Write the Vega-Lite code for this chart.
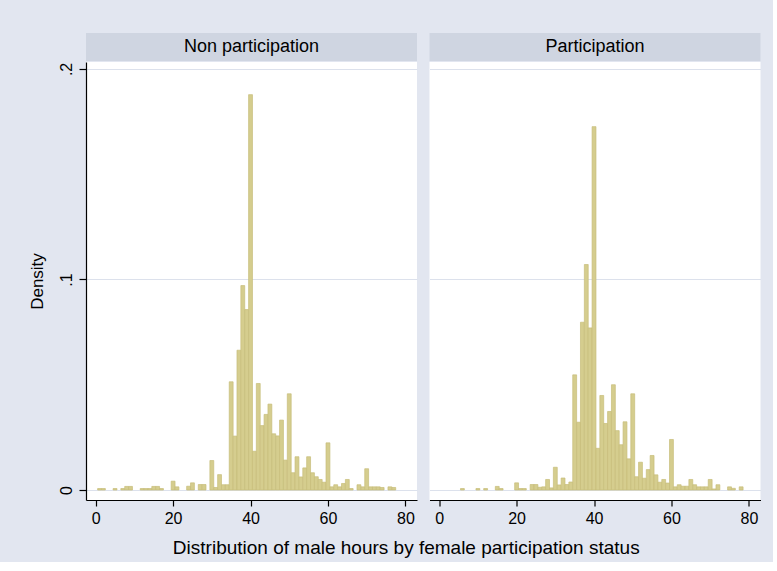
{
  "$schema": "https://vega.github.io/schema/vega-lite/v6.json",
  "background": "#E2E6F0",
  "padding": {"left": 28, "top": 33, "right": 12, "bottom": 4},
  "title": {"text": "Distribution of male hours by female participation status", "orient": "bottom", "anchor": "middle", "font": "Liberation Sans", "fontSize": 19, "fontWeight": "normal", "color": "black", "offset": 13, "dx": 12},
  "datasets": {
    "hist": [
      {"status": "Non participation", "bin_start": 0.5, "bin_end": 1.5, "density": 0.0007},
      {"status": "Non participation", "bin_start": 1.5, "bin_end": 2.5, "density": 0.0007},
      {"status": "Non participation", "bin_start": 4.5, "bin_end": 5.5, "density": 0.0007},
      {"status": "Non participation", "bin_start": 6.5, "bin_end": 7.5, "density": 0.0007},
      {"status": "Non participation", "bin_start": 7.5, "bin_end": 8.5, "density": 0.0017},
      {"status": "Non participation", "bin_start": 8.5, "bin_end": 9.5, "density": 0.0017},
      {"status": "Non participation", "bin_start": 11.5, "bin_end": 12.5, "density": 0.0007},
      {"status": "Non participation", "bin_start": 12.5, "bin_end": 13.5, "density": 0.0007},
      {"status": "Non participation", "bin_start": 13.5, "bin_end": 14.5, "density": 0.0007},
      {"status": "Non participation", "bin_start": 14.5, "bin_end": 15.5, "density": 0.0017},
      {"status": "Non participation", "bin_start": 15.5, "bin_end": 16.5, "density": 0.0017},
      {"status": "Non participation", "bin_start": 16.5, "bin_end": 17.5, "density": 0.0007},
      {"status": "Non participation", "bin_start": 19.5, "bin_end": 20.5, "density": 0.0042},
      {"status": "Non participation", "bin_start": 20.5, "bin_end": 21.5, "density": 0.0015},
      {"status": "Non participation", "bin_start": 23.5, "bin_end": 24.5, "density": 0.0018},
      {"status": "Non participation", "bin_start": 24.5, "bin_end": 25.5, "density": 0.0034},
      {"status": "Non participation", "bin_start": 26.5, "bin_end": 27.5, "density": 0.0026},
      {"status": "Non participation", "bin_start": 27.5, "bin_end": 28.5, "density": 0.0026},
      {"status": "Non participation", "bin_start": 29.5, "bin_end": 30.5, "density": 0.0140},
      {"status": "Non participation", "bin_start": 30.5, "bin_end": 31.5, "density": 0.0012},
      {"status": "Non participation", "bin_start": 31.5, "bin_end": 32.5, "density": 0.0073},
      {"status": "Non participation", "bin_start": 32.5, "bin_end": 33.5, "density": 0.0025},
      {"status": "Non participation", "bin_start": 33.5, "bin_end": 34.5, "density": 0.0025},
      {"status": "Non participation", "bin_start": 34.5, "bin_end": 35.5, "density": 0.0514},
      {"status": "Non participation", "bin_start": 35.5, "bin_end": 36.5, "density": 0.0256},
      {"status": "Non participation", "bin_start": 36.5, "bin_end": 37.5, "density": 0.0664},
      {"status": "Non participation", "bin_start": 37.5, "bin_end": 38.5, "density": 0.0971},
      {"status": "Non participation", "bin_start": 38.5, "bin_end": 39.5, "density": 0.0857},
      {"status": "Non participation", "bin_start": 39.5, "bin_end": 40.5, "density": 0.1878},
      {"status": "Non participation", "bin_start": 40.5, "bin_end": 41.5, "density": 0.0184},
      {"status": "Non participation", "bin_start": 41.5, "bin_end": 42.5, "density": 0.0506},
      {"status": "Non participation", "bin_start": 42.5, "bin_end": 43.5, "density": 0.0306},
      {"status": "Non participation", "bin_start": 43.5, "bin_end": 44.5, "density": 0.0359},
      {"status": "Non participation", "bin_start": 44.5, "bin_end": 45.5, "density": 0.0408},
      {"status": "Non participation", "bin_start": 45.5, "bin_end": 46.5, "density": 0.0267},
      {"status": "Non participation", "bin_start": 46.5, "bin_end": 47.5, "density": 0.0257},
      {"status": "Non participation", "bin_start": 47.5, "bin_end": 48.5, "density": 0.0332},
      {"status": "Non participation", "bin_start": 48.5, "bin_end": 49.5, "density": 0.0142},
      {"status": "Non participation", "bin_start": 49.5, "bin_end": 50.5, "density": 0.0457},
      {"status": "Non participation", "bin_start": 50.5, "bin_end": 51.5, "density": 0.0082},
      {"status": "Non participation", "bin_start": 51.5, "bin_end": 52.5, "density": 0.0158},
      {"status": "Non participation", "bin_start": 52.5, "bin_end": 53.5, "density": 0.0062},
      {"status": "Non participation", "bin_start": 53.5, "bin_end": 54.5, "density": 0.0105},
      {"status": "Non participation", "bin_start": 54.5, "bin_end": 55.5, "density": 0.0158},
      {"status": "Non participation", "bin_start": 55.5, "bin_end": 56.5, "density": 0.0082},
      {"status": "Non participation", "bin_start": 56.5, "bin_end": 57.5, "density": 0.0063},
      {"status": "Non participation", "bin_start": 57.5, "bin_end": 58.5, "density": 0.0050},
      {"status": "Non participation", "bin_start": 58.5, "bin_end": 59.5, "density": 0.0037},
      {"status": "Non participation", "bin_start": 59.5, "bin_end": 60.5, "density": 0.0224},
      {"status": "Non participation", "bin_start": 60.5, "bin_end": 61.5, "density": 0.0015},
      {"status": "Non participation", "bin_start": 61.5, "bin_end": 62.5, "density": 0.0025},
      {"status": "Non participation", "bin_start": 62.5, "bin_end": 63.5, "density": 0.0015},
      {"status": "Non participation", "bin_start": 63.5, "bin_end": 64.5, "density": 0.0031},
      {"status": "Non participation", "bin_start": 64.5, "bin_end": 65.5, "density": 0.0050},
      {"status": "Non participation", "bin_start": 65.5, "bin_end": 66.5, "density": 0.0007},
      {"status": "Non participation", "bin_start": 67.5, "bin_end": 68.5, "density": 0.0025},
      {"status": "Non participation", "bin_start": 68.5, "bin_end": 69.5, "density": 0.0015},
      {"status": "Non participation", "bin_start": 69.5, "bin_end": 70.5, "density": 0.0101},
      {"status": "Non participation", "bin_start": 70.5, "bin_end": 71.5, "density": 0.0015},
      {"status": "Non participation", "bin_start": 71.5, "bin_end": 72.5, "density": 0.0015},
      {"status": "Non participation", "bin_start": 72.5, "bin_end": 73.5, "density": 0.0015},
      {"status": "Non participation", "bin_start": 73.5, "bin_end": 74.5, "density": 0.0012},
      {"status": "Non participation", "bin_start": 75.5, "bin_end": 76.5, "density": 0.0015},
      {"status": "Non participation", "bin_start": 76.5, "bin_end": 77.5, "density": 0.0012},
      {"status": "Participation", "bin_start": 5.5, "bin_end": 6.5, "density": 0.0007},
      {"status": "Participation", "bin_start": 9.5, "bin_end": 10.5, "density": 0.0007},
      {"status": "Participation", "bin_start": 11.5, "bin_end": 12.5, "density": 0.0007},
      {"status": "Participation", "bin_start": 14.5, "bin_end": 15.5, "density": 0.0017},
      {"status": "Participation", "bin_start": 15.5, "bin_end": 16.5, "density": 0.0007},
      {"status": "Participation", "bin_start": 19.5, "bin_end": 20.5, "density": 0.0034},
      {"status": "Participation", "bin_start": 20.5, "bin_end": 21.5, "density": 0.0007},
      {"status": "Participation", "bin_start": 21.5, "bin_end": 22.5, "density": 0.0007},
      {"status": "Participation", "bin_start": 23.5, "bin_end": 24.5, "density": 0.0026},
      {"status": "Participation", "bin_start": 24.5, "bin_end": 25.5, "density": 0.0026},
      {"status": "Participation", "bin_start": 25.5, "bin_end": 26.5, "density": 0.0013},
      {"status": "Participation", "bin_start": 26.5, "bin_end": 27.5, "density": 0.0015},
      {"status": "Participation", "bin_start": 27.5, "bin_end": 28.5, "density": 0.0050},
      {"status": "Participation", "bin_start": 28.5, "bin_end": 29.5, "density": 0.0010},
      {"status": "Participation", "bin_start": 29.5, "bin_end": 30.5, "density": 0.0108},
      {"status": "Participation", "bin_start": 30.5, "bin_end": 31.5, "density": 0.0024},
      {"status": "Participation", "bin_start": 31.5, "bin_end": 32.5, "density": 0.0057},
      {"status": "Participation", "bin_start": 32.5, "bin_end": 33.5, "density": 0.0026},
      {"status": "Participation", "bin_start": 33.5, "bin_end": 34.5, "density": 0.0038},
      {"status": "Participation", "bin_start": 34.5, "bin_end": 35.5, "density": 0.0547},
      {"status": "Participation", "bin_start": 35.5, "bin_end": 36.5, "density": 0.0322},
      {"status": "Participation", "bin_start": 36.5, "bin_end": 37.5, "density": 0.0797},
      {"status": "Participation", "bin_start": 37.5, "bin_end": 38.5, "density": 0.1071},
      {"status": "Participation", "bin_start": 38.5, "bin_end": 39.5, "density": 0.0770},
      {"status": "Participation", "bin_start": 39.5, "bin_end": 40.5, "density": 0.1726},
      {"status": "Participation", "bin_start": 40.5, "bin_end": 41.5, "density": 0.0198},
      {"status": "Participation", "bin_start": 41.5, "bin_end": 42.5, "density": 0.0449},
      {"status": "Participation", "bin_start": 42.5, "bin_end": 43.5, "density": 0.0316},
      {"status": "Participation", "bin_start": 43.5, "bin_end": 44.5, "density": 0.0373},
      {"status": "Participation", "bin_start": 44.5, "bin_end": 45.5, "density": 0.0500},
      {"status": "Participation", "bin_start": 45.5, "bin_end": 46.5, "density": 0.0282},
      {"status": "Participation", "bin_start": 46.5, "bin_end": 47.5, "density": 0.0215},
      {"status": "Participation", "bin_start": 47.5, "bin_end": 48.5, "density": 0.0324},
      {"status": "Participation", "bin_start": 48.5, "bin_end": 49.5, "density": 0.0148},
      {"status": "Participation", "bin_start": 49.5, "bin_end": 50.5, "density": 0.0457},
      {"status": "Participation", "bin_start": 50.5, "bin_end": 51.5, "density": 0.0063},
      {"status": "Participation", "bin_start": 51.5, "bin_end": 52.5, "density": 0.0132},
      {"status": "Participation", "bin_start": 52.5, "bin_end": 53.5, "density": 0.0056},
      {"status": "Participation", "bin_start": 53.5, "bin_end": 54.5, "density": 0.0097},
      {"status": "Participation", "bin_start": 54.5, "bin_end": 55.5, "density": 0.0164},
      {"status": "Participation", "bin_start": 55.5, "bin_end": 56.5, "density": 0.0072},
      {"status": "Participation", "bin_start": 56.5, "bin_end": 57.5, "density": 0.0037},
      {"status": "Participation", "bin_start": 57.5, "bin_end": 58.5, "density": 0.0050},
      {"status": "Participation", "bin_start": 58.5, "bin_end": 59.5, "density": 0.0033},
      {"status": "Participation", "bin_start": 59.5, "bin_end": 60.5, "density": 0.0240},
      {"status": "Participation", "bin_start": 60.5, "bin_end": 61.5, "density": 0.0015},
      {"status": "Participation", "bin_start": 61.5, "bin_end": 62.5, "density": 0.0025},
      {"status": "Participation", "bin_start": 62.5, "bin_end": 63.5, "density": 0.0018},
      {"status": "Participation", "bin_start": 63.5, "bin_end": 64.5, "density": 0.0018},
      {"status": "Participation", "bin_start": 64.5, "bin_end": 65.5, "density": 0.0050},
      {"status": "Participation", "bin_start": 65.5, "bin_end": 66.5, "density": 0.0025},
      {"status": "Participation", "bin_start": 66.5, "bin_end": 67.5, "density": 0.0015},
      {"status": "Participation", "bin_start": 67.5, "bin_end": 68.5, "density": 0.0015},
      {"status": "Participation", "bin_start": 68.5, "bin_end": 69.5, "density": 0.0015},
      {"status": "Participation", "bin_start": 69.5, "bin_end": 70.5, "density": 0.0050},
      {"status": "Participation", "bin_start": 70.5, "bin_end": 71.5, "density": 0.0005},
      {"status": "Participation", "bin_start": 71.5, "bin_end": 72.5, "density": 0.0025},
      {"status": "Participation", "bin_start": 74.5, "bin_end": 75.5, "density": 0.0015},
      {"status": "Participation", "bin_start": 75.5, "bin_end": 76.5, "density": 0.0008},
      {"status": "Participation", "bin_start": 77.5, "bin_end": 78.5, "density": 0.0015}
    ]
  },
  "spacing": 12.5,
  "hconcat": [
    {
      "spacing": 1,
      "vconcat": [
        {
          "width": 331, "height": 28,
          "view": {"fill": "#CFD5E1", "stroke": null},
          "data": {"values": [{"label": "Non participation"}]},
          "mark": {"type": "text", "font": "Liberation Sans", "fontSize": 18, "color": "black", "baseline": "middle", "align": "center"},
          "encoding": {"text": {"field": "label"}}
        },
        {
          "width": 331, "height": 438,
          "view": {"fill": "white", "stroke": null},
          "data": {"name": "hist"},
          "transform": [{"filter": "datum.status == 'Non participation'"}],
          "mark": {"type": "rect", "fill": "#D5CD8E", "stroke": "#C7BD7A", "strokeWidth": 0.7},
          "encoding": {
            "x": {"field": "bin_start", "type": "quantitative", "scale": {"domain": [-2.5, 83], "nice": false, "zero": false},
                  "axis": {"values": [0, 20, 40, 60, 80], "grid": false, "title": null, "tickSize": 6, "labelPadding": 4}},
            "x2": {"field": "bin_end"},
            "y": {"field": "density", "type": "quantitative", "scale": {"domain": [-0.00475, 0.2033], "nice": false, "zero": false},
                  "axis": {"values": [0, 0.1, 0.2], "grid": true, "title": "Density", "labelAngle": -90, "labelAlign": "center", "labelBaseline": "bottom", "tickSize": 7, "labelPadding": 5, "titlePadding": 12,
                           "labelExpr": "datum.value == 0 ? '0' : '.' + round(datum.value * 10)"}},
            "y2": {"datum": 0}
          }
        }
      ]
    },
    {
      "spacing": 1,
      "vconcat": [
        {
          "width": 331, "height": 28,
          "view": {"fill": "#CFD5E1", "stroke": null},
          "data": {"values": [{"label": "Participation"}]},
          "mark": {"type": "text", "font": "Liberation Sans", "fontSize": 18, "color": "black", "baseline": "middle", "align": "center"},
          "encoding": {"text": {"field": "label"}}
        },
        {
          "width": 331, "height": 438,
          "view": {"fill": "white", "stroke": null},
          "data": {"name": "hist"},
          "transform": [{"filter": "datum.status == 'Participation'"}],
          "mark": {"type": "rect", "fill": "#D5CD8E", "stroke": "#C7BD7A", "strokeWidth": 0.7},
          "encoding": {
            "x": {"field": "bin_start", "type": "quantitative", "scale": {"domain": [-2.5, 83], "nice": false, "zero": false},
                  "axis": {"values": [0, 20, 40, 60, 80], "grid": false, "title": null, "tickSize": 6, "labelPadding": 4}},
            "x2": {"field": "bin_end"},
            "y": {"field": "density", "type": "quantitative", "scale": {"domain": [-0.00475, 0.2033], "nice": false, "zero": false},
                  "axis": {"values": [0, 0.1, 0.2], "grid": true, "title": null, "labels": false, "ticks": false, "domain": false}},
            "y2": {"datum": 0}
          }
        }
      ]
    }
  ],
  "config": {
    "view": {"stroke": null},
    "axis": {
      "labelFont": "Liberation Sans", "titleFont": "Liberation Sans",
      "labelFontSize": 16, "titleFontSize": 17, "titleFontWeight": "normal",
      "labelColor": "black", "titleColor": "black",
      "domainColor": "black", "domainWidth": 1.2, "tickColor": "black", "tickWidth": 1.2,
      "gridColor": "#DCE1EC", "gridWidth": 1.2
    }
  }
}
